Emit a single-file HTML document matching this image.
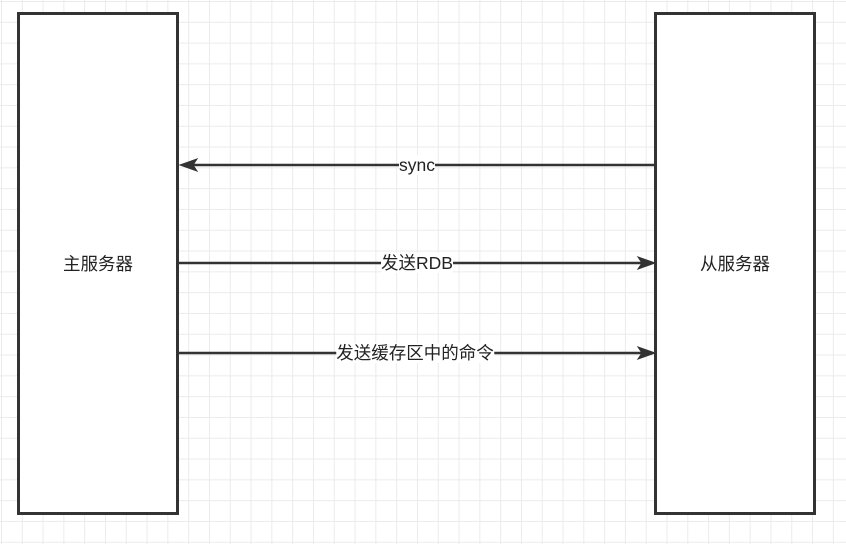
<!DOCTYPE html>
<html><head><meta charset="utf-8"><style>
html,body{margin:0;padding:0;}
body{width:846px;height:544px;overflow:hidden;background:#fff;
background-image:linear-gradient(#ebebeb 1px,transparent 1px),linear-gradient(90deg,#ebebeb 1px,transparent 1px);
background-size:20.8px 20.8px;background-position:1px 1px;
font-family:"Liberation Sans","Noto Sans CJK SC",sans-serif;position:relative}
.box{position:absolute;top:12px;width:156px;height:497px;border:3px solid #333;background:#fff;display:flex;align-items:center;justify-content:center;font-size:17.5px;color:#222}
svg{position:absolute;left:0;top:0}
.lbl{position:absolute;font-size:17.5px;color:#222;background:#fff;line-height:20px;transform:translateX(-50%)}
</style></head><body>
<div class="box" style="left:17px">主服务器</div>
<div class="box" style="left:654px">从服务器</div>
<svg width="846" height="544">
<g stroke="#333" stroke-width="2.5" fill="#333">
<line x1="655" y1="165" x2="190" y2="165"/>
<polygon points="180,165 197,159 193,165 197,171" stroke-width="1"/>
<line x1="178" y1="263" x2="644" y2="263"/>
<polygon points="655,263 638,257 642,263 638,269" stroke-width="1"/>
<line x1="176" y1="353" x2="644" y2="353"/>
<polygon points="655,353 638,347 642,353 638,359" stroke-width="1"/>
</g></svg>
<div class="lbl" style="left:417px;top:155px">sync</div>
<div class="lbl" style="left:417px;top:253px">发送RDB</div>
<div class="lbl" style="left:415px;top:343px">发送缓存区中的命令</div>
</body></html>
